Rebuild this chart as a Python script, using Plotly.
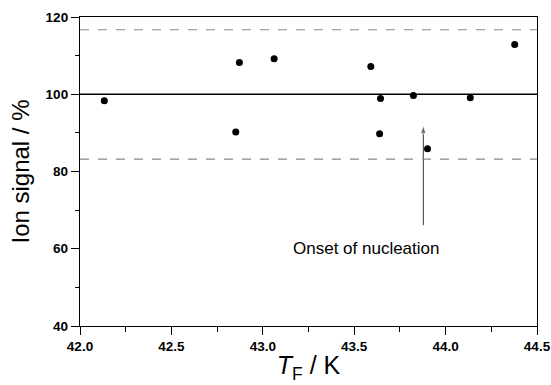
import plotly.graph_objects as go

temps = [42.133, 42.872, 42.852, 43.062, 43.591, 43.644, 43.639, 43.824, 43.901, 44.135, 44.378]
signal = [98.3, 108.2, 90.2, 109.2, 107.2, 98.9, 89.8, 99.7, 85.9, 99.1, 112.9]
mean_level = 100
upper_level = 116.7
lower_level = 83.2
arrow_x = [43.878, 43.878]
arrow_y = [66.1, 92.0]
label_x = 43.563
label_y = 60.0

fig = go.Figure()
fig.add_trace(go.Scatter(x=temps, y=signal, mode="markers",
                         marker=dict(color="black", size=7), showlegend=False))
fig.add_trace(go.Scatter(x=arrow_x, y=arrow_y, mode="lines+markers", showlegend=False,
                         line=dict(color="#333333", width=1),
                         marker=dict(symbol="arrow", size=[0, 9], angleref="previous",
                                     color="#333333")))

fig.add_shape(type="line", xref="paper", x0=0, x1=1, yref="y", y0=mean_level, y1=mean_level,
              line=dict(color="black", width=1.3))
for lv in (upper_level, lower_level):
    fig.add_shape(type="line", xref="paper", x0=0, x1=1, yref="y", y0=lv, y1=lv,
                  line=dict(color="#888888", width=1.2, dash="dash"))

fig.add_annotation(x=label_x, y=label_y, xref="x", yref="y", text="Onset of nucleation",
                   showarrow=False, font=dict(family="Liberation Sans, Arial", size=17, color="black"))

fig.update_layout(
    width=551, height=385,
    margin=dict(l=80, r=14, t=17, b=59),
    paper_bgcolor="white", plot_bgcolor="white",
    font=dict(family="Liberation Sans, Arial", color="black"),
)
fig.update_xaxes(range=[42.0, 44.5], dtick=0.5, tickformat=".1f", automargin=False,
                 ticks="outside", ticklen=8, tickwidth=1, tickcolor="black",
                 minor=dict(dtick=0.25, ticks="outside", ticklen=5, tickcolor="black"),
                 showline=True, linecolor="black", linewidth=1.3, mirror=True,
                 showgrid=False, zeroline=False,
                 tickfont=dict(size=13.5, family="Liberation Sans, Arial", weight="bold"),
                 title=dict(text="<i>T</i><sub>F</sub> / K", font=dict(size=25), standoff=3))
fig.update_yaxes(range=[40, 120], dtick=20, automargin=False,
                 ticks="outside", ticklen=8, tickwidth=1, tickcolor="black",
                 minor=dict(dtick=10, ticks="outside", ticklen=4, tickcolor="black"),
                 showline=True, linecolor="black", linewidth=1.3, mirror=True,
                 showgrid=False, zeroline=False,
                 tickfont=dict(size=13.5, family="Liberation Sans, Arial", weight="bold"),
                 title=dict(text="Ion signal / %", font=dict(size=24), standoff=9))

fig.write_html("out.html", config={"displayModeBar": False},
               post_script="document.body.style.margin='0';document.body.style.overflow='hidden';")
